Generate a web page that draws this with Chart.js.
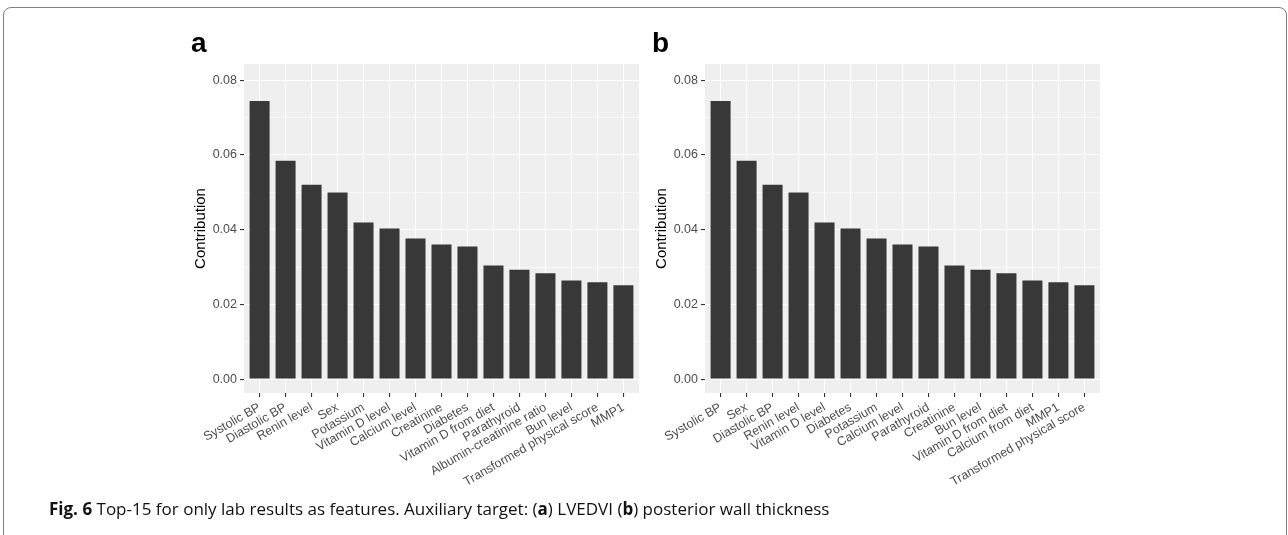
<!DOCTYPE html>
<html>
<head>
<meta charset="utf-8">
<script src="https://cdn.jsdelivr.net/npm/chart.js@4.4.0/dist/chart.umd.min.js"></script>
<style>
  html, body { margin: 0; padding: 0; background: #fff; }
  body { width: 1288px; height: 535px; position: relative; overflow: hidden; font-family: "Liberation Sans", Arial, sans-serif; }
  .frame { position: absolute; left: 3px; top: 7px; width: 1282px; height: 600px; border: 1.5px solid #808080; border-radius: 8px; }
  canvas { position: absolute; top: 0; }
  #chart-a { left: 0; }
  #chart-b { left: 644px; }
  .tag { position: absolute; top: 29px; font: bold 28px/28px "Liberation Sans", Arial, sans-serif; color: #000; }
  .cap { position: absolute; left: 49px; top: 498px; font: 17px/22px "Open Sans", sans-serif; color: #111; white-space: nowrap; }
  .cap b { font-weight: 700; }
</style>
</head>
<body>
<div class="frame"></div>
<canvas id="chart-a" width="644" height="535"></canvas>
<canvas id="chart-b" width="644" height="535"></canvas>
<div class="tag" style="left:191px">a</div>
<div class="tag" style="left:652px">b</div>
<div class="cap"><b>Fig. 6</b> Top-15 for only lab results as features. Auxiliary target: (<b>a</b>) LVEDVI (<b>b</b>) posterior wall thickness</div>

<script>
// Panel a: auxiliary target LVEDVI
const labelsA = ['Systolic BP', 'Diastolic BP', 'Renin level', 'Sex', 'Potassium', 'Vitamin D level',
  'Calcium level', 'Creatinine', 'Diabetes', 'Vitamin D from diet', 'Parathyroid',
  'Albumin-creatinine ratio', 'Bun level', 'Transformed physical score', 'MMP1'];
const valuesA = [0.0744, 0.0584, 0.0520, 0.0499, 0.0419, 0.0403, 0.0376, 0.0360, 0.0355,
  0.0304, 0.0293, 0.0283, 0.0264, 0.0259, 0.0251];

// Panel b: auxiliary target posterior wall thickness
const labelsB = ['Systolic BP', 'Sex', 'Diastolic BP', 'Renin level', 'Vitamin D level', 'Diabetes',
  'Potassium', 'Calcium level', 'Parathyroid', 'Creatinine', 'Bun level', 'Vitamin D from diet',
  'Calcium from diet', 'MMP1', 'Transformed physical score'];
const valuesB = [0.0744, 0.0584, 0.0520, 0.0499, 0.0419, 0.0403, 0.0376, 0.0360, 0.0355,
  0.0304, 0.0293, 0.0283, 0.0264, 0.0259, 0.0251];

const yMajor = [0, 0.02, 0.04, 0.06, 0.08];
const yMinor = [0.01, 0.03, 0.05, 0.07];
const yMin = -0.0037;
const yMax = 0.0843;

Chart.defaults.font.family = '"Liberation Sans", Arial, sans-serif';

// fondo gris tipo ggplot
const panelBg = {
  id: 'panelBg',
  beforeDraw(chart){
    const a = chart.chartArea;
    const ctx = chart.ctx;
    ctx.save();
    ctx.fillStyle = '#efefef';
    ctx.fillRect(a.left, a.top, a.right - a.left, a.bottom - a.top);
    ctx.restore();
  }
};

function makeChart(id, labels, values, padLeft, padRight){
  const isMajor = (v) => yMajor.includes(v);
  return new Chart(document.getElementById(id), {
    type: 'bar',
    data: {
      datasets: [{
        data: values.map((v, i) => ({ x: i, y: v })),
        backgroundColor: '#383838',
        barPercentage: 0.77,
        categoryPercentage: 1
      }]
    },
    options: {
      responsive: false,
      animation: false,
      devicePixelRatio: 1,
      layout: { padding: { left: padLeft, top: 64, right: padRight, bottom: 0 } },
      plugins: { legend: { display: false }, tooltip: { enabled: false } },
      scales: {
        x: {
          type: 'linear',
          offset: false,
          min: -0.6,
          max: labels.length - 0.4,
          afterBuildTicks: (s) => { s.ticks = labels.map((_, i) => ({ value: i })); },
          afterFit: (s) => { s.height = 142; },
          border: { display: false },
          grid: { offset: false, color: '#ffffff', lineWidth: 1.1, tickColor: '#333333', tickLength: 4, tickWidth: 1.1 },
          ticks: {
            autoSkip: false, minRotation: 30, maxRotation: 30, padding: 3,
            color: '#4d4d4d', font: { size: 12.5 },
            callback: (v) => labels[v]
          }
        },
        y: {
          min: yMin,
          max: yMax,
          afterBuildTicks: (s) => {
            s.ticks = [...yMajor, ...yMinor].sort((p, q) => p - q).map(v => ({ value: v }));
          },
          afterFit: (s) => { s.width = 52; },
          border: { display: false },
          grid: {
            color: '#ffffff',
            lineWidth: (c) => isMajor(c.tick.value) ? 1.1 : 0.55,
            tickColor: (c) => isMajor(c.tick.value) ? '#333333' : 'rgba(0,0,0,0)',
            tickLength: 4,
            tickWidth: 1.1
          },
          ticks: {
            padding: 3, color: '#4d4d4d', font: { size: 12.5 },
            callback: (v) => isMajor(v) ? v.toFixed(2) : ''
          },
          title: { display: true, text: 'Contribution', color: '#000', font: { size: 15 }, padding: 0 }
        }
      }
    },
    plugins: [panelBg]
  });
}

makeChart('chart-a', labelsA, valuesA, 192, 5);
makeChart('chart-b', labelsB, valuesB, 9, 188);
</script>
</body>
</html>
